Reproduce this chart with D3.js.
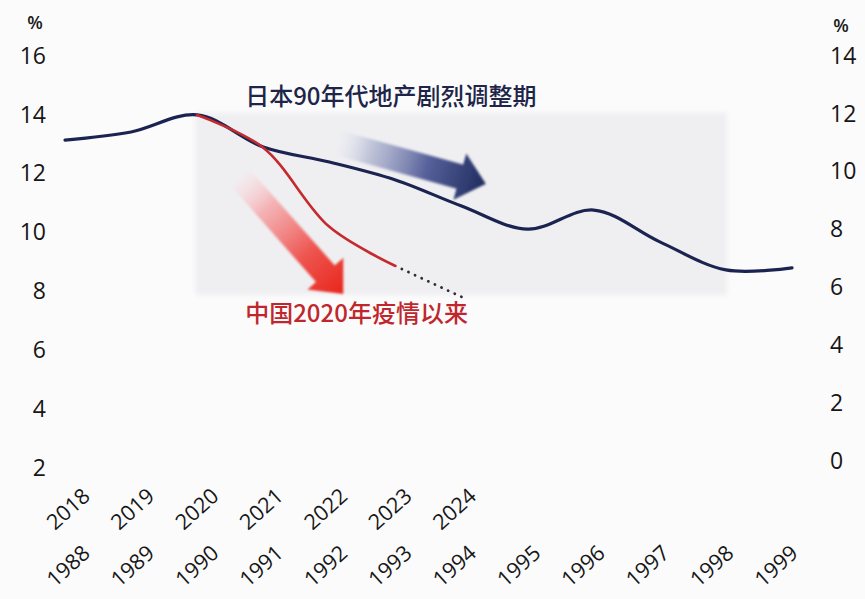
<!DOCTYPE html>
<html>
<head>
<meta charset="utf-8">
<script src="https://cdn.jsdelivr.net/npm/d3@7"></script>
<style>
  html, body { margin: 0; padding: 0; background: #fbfbfc; }
  svg { display: block; }
</style>
</head>
<body>
<svg id="chart" width="865" height="599"></svg>
<script>
// ---------------- DATA ----------------
const japanYears  = [1988, 1989, 1990, 1991, 1992, 1993, 1994, 1995, 1996, 1997, 1998, 1999];
const japanValues = [11.06, 11.34, 11.93, 10.82, 10.30, 9.68, 8.78, 7.98, 8.64, 7.54, 6.57, 6.64]; // right axis, %
const chinaYears  = [2018, 2019, 2020, 2021, 2022, 2023, 2024];
const chinaValues = [13.11, 13.38, 13.96, 12.85, 10.16, 8.83, 7.78]; // left axis, %
const chinaSolidUntil = 2023;   // 2024 drawn dotted (projection)
const leftTicks  = [2, 4, 6, 8, 10, 12, 14, 16];
const rightTicks = [0, 2, 4, 6, 8, 10, 12, 14];
const japanPeriod = [1990, 1998];   // shaded "adjustment period"
const japanTitle = "日本90年代地产剧烈调整期";
const chinaTitle = "中国2020年疫情以来";
const unitLabel = "%";

// ---------------- SCALES ----------------
const svg = d3.select("#chart");
const W = 865, H = 599;
svg.append("rect").attr("width", W).attr("height", H).attr("fill", "#fbfbfc");

const plotL = 65, plotR = 792;
const step = (plotR - plotL) / (japanYears.length - 1);
const xJ = d3.scalePoint().domain(japanYears).range([plotL, plotR]);
const xC = d3.scalePoint().domain(chinaYears).range([plotL, plotL + step * (chinaYears.length - 1)]);

const lblL = 91, lblR = 799;
const lstep = (lblR - lblL) / (japanYears.length - 1);
const xJL = d3.scalePoint().domain(japanYears).range([lblL, lblR]);
const xCL = d3.scalePoint().domain(chinaYears).range([lblL, lblL + lstep * (chinaYears.length - 1)]);

const yL = d3.scaleLinear().domain([2, 16]).range([467, 55]);
const yR = d3.scaleLinear().domain([0, 14]).range([460, 55]);

// ---------------- DEFS ----------------
const defs = svg.append("defs");
const soft = defs.append("filter").attr("id", "soft").attr("x", "-10%").attr("y", "-10%").attr("width", "120%").attr("height", "120%");
soft.append("feGaussianBlur").attr("stdDeviation", 2.5);
const soft2 = defs.append("filter").attr("id", "soft2").attr("x", "-10%").attr("y", "-30%").attr("width", "120%").attr("height", "160%");
soft2.append("feGaussianBlur").attr("stdDeviation", 0.8);

const gBlue = defs.append("linearGradient").attr("id", "gBlue")
  .attr("gradientUnits", "objectBoundingBox").attr("x1", 0).attr("x2", 1).attr("y1", 0).attr("y2", 0);
gBlue.append("stop").attr("offset", 0).attr("stop-color", "#e6e8f1").attr("stop-opacity", 0.2);
gBlue.append("stop").attr("offset", 0.2).attr("stop-color", "#b3b9d2").attr("stop-opacity", 0.75);
gBlue.append("stop").attr("offset", 0.6).attr("stop-color", "#56609a");
gBlue.append("stop").attr("offset", 1).attr("stop-color", "#1f2c5e");

const gRed = defs.append("linearGradient").attr("id", "gRed")
  .attr("gradientUnits", "objectBoundingBox").attr("x1", 0).attr("x2", 1).attr("y1", 0).attr("y2", 0);
gRed.append("stop").attr("offset", 0).attr("stop-color", "#fbe0e2").attr("stop-opacity", 0.3);
gRed.append("stop").attr("offset", 0.25).attr("stop-color", "#f5a9ac").attr("stop-opacity", 0.85);
gRed.append("stop").attr("offset", 0.65).attr("stop-color", "#ee5550");
gRed.append("stop").attr("offset", 1).attr("stop-color", "#e8261c");

// ---------------- SHADED PERIOD ----------------
svg.append("rect")
  .attr("x", xJ(japanPeriod[0]) - 2)
  .attr("y", yR(12))
  .attr("width", xJ(japanPeriod[1]) - xJ(japanPeriod[0]) + 3)
  .attr("height", yR(5.7) - yR(12))
  .attr("fill", "#efeff2")
  .attr("filter", "url(#soft)");

// ---------------- ARROWS ----------------
function arrow(tx, ty, angle, len, shaftHW, headHW, headLen, fill) {
  const p = d3.path();
  p.moveTo(0, -shaftHW);
  p.lineTo(len - headLen, -shaftHW);
  p.lineTo(len - headLen, -headHW);
  p.lineTo(len, 0);
  p.lineTo(len - headLen, headHW);
  p.lineTo(len - headLen, shaftHW);
  p.lineTo(0, shaftHW);
  p.closePath();
  svg.append("path")
    .attr("d", p.toString())
    .attr("transform", `translate(${tx},${ty}) rotate(${angle})`)
    .attr("fill", fill)
    .attr("filter", "url(#soft2)");
}
// blue arrow (Japan trend)
arrow(xJ(1992) + 10, yR(10.95), 15.5, 152, 12.5, 24, 27, "url(#gBlue)");
// red arrow (China trend)
arrow(xC(2020) + 44, yL(11.8), 48.5, 154, 12.5, 24, 27, "url(#gRed)");

// ---------------- LINES ----------------
const curve = d3.curveCatmullRom.alpha(0.5);
const lineJ = d3.line().x((d, i) => xJ(japanYears[i])).y(d => yR(d)).curve(curve);
const chinaPts = chinaYears.map((yr, i) => ({ yr, v: chinaValues[i] }));
const lineC = d3.line().x(d => xC(d.yr)).y(d => yL(d.v)).curve(curve);

const solidPts = chinaPts.filter(d => d.yr <= chinaSolidUntil);
const dotPts = chinaPts.filter(d => d.yr >= chinaSolidUntil);

svg.append("path").attr("d", lineJ(japanValues))
  .attr("fill", "none").attr("stroke", "#1b2450").attr("stroke-width", 3.2)
  .attr("stroke-linecap", "round").attr("stroke-linejoin", "round");

svg.append("path").attr("d", lineC(solidPts.filter(d => d.yr >= 2020)))
  .attr("fill", "none").attr("stroke", "#c42a2e").attr("stroke-width", 2.6)
  .attr("stroke-linecap", "round");

svg.append("path").attr("d", lineC(dotPts))
  .attr("fill", "none").attr("stroke", "#34293b").attr("stroke-width", 2.8)
  .attr("stroke-dasharray", "0.1 7.2").attr("stroke-dashoffset", -7)
  .attr("stroke-linecap", "round");

// ---------------- AXES ----------------
const tickFont = "'Open Sans', 'DejaVu Sans', sans-serif";
const axL = svg.append("g").attr("transform", "translate(46,0)")
  .call(d3.axisLeft(yL).tickValues(leftTicks).tickSize(0).tickPadding(0).tickFormat(d3.format("d")));
const axR = svg.append("g").attr("transform", "translate(830,0)")
  .call(d3.axisRight(yR).tickValues(rightTicks).tickSize(0).tickPadding(0).tickFormat(d3.format("d")));
[axL, axR].forEach(ax => {
  ax.select(".domain").remove();
  ax.selectAll("text").attr("font-family", tickFont).attr("font-size", 23)
    .attr("font-weight", 500).attr("fill", "#161616").attr("dy", "0.36em");
});

svg.append("text").attr("x", 35).attr("y", 29).attr("text-anchor", "middle")
  .attr("font-family", tickFont).attr("font-size", 18).attr("font-weight", 600).attr("fill", "#1a1a1a").text(unitLabel);
svg.append("text").attr("x", 841).attr("y", 32).attr("text-anchor", "middle")
  .attr("font-family", tickFont).attr("font-size", 18).attr("font-weight", 600).attr("fill", "#1a1a1a").text(unitLabel);

function xLabels(scale, y) {
  const g = svg.append("g").attr("transform", `translate(0,${y})`)
    .call(d3.axisBottom(scale).tickSize(0).tickFormat(d3.format("d")));
  g.select(".domain").remove();
  g.selectAll("text")
    .attr("x", 0).attr("y", 0).attr("dy", 0)
    .attr("text-anchor", "end")
    .attr("transform", "rotate(-42)")
    .attr("font-family", tickFont).attr("font-size", 21.5).attr("font-weight", 500).attr("fill", "#161616");
}
xLabels(xCL, 498);
xLabels(xJL, 555);

// ---------------- ANNOTATION TEXT ----------------
const cjk = "'Noto Sans CJK SC', 'Noto Sans', sans-serif";
svg.append("text").attr("x", xJ(1990) + 48).attr("y", 105)
  .attr("font-family", cjk).attr("font-size", 24).attr("font-weight", 500)
  .attr("fill", "#1e2548").text(japanTitle);
svg.append("text").attr("x", xC(2020) + 48).attr("y", 322)
  .attr("font-family", cjk).attr("font-size", 24).attr("font-weight", 500)
  .attr("fill", "#c0272d").text(chinaTitle);
</script>
</body>
</html>
